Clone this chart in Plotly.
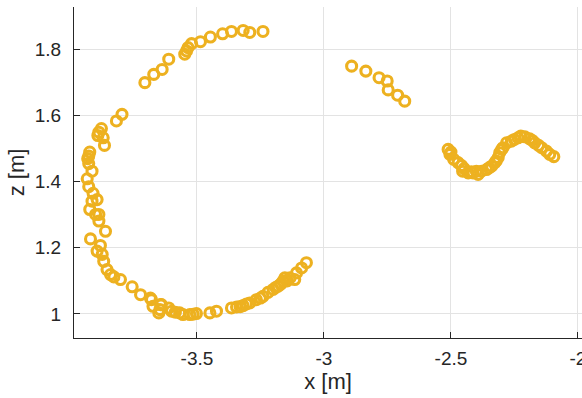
import plotly.graph_objects as go

# Measured trajectory points, x and z in metres, grouped by segment
arc_left_x = [-3.795, -3.817, -3.876, -3.886, -3.890, -3.869, -3.864, -3.922, -3.926, -3.930,
              -3.926, -3.913, -3.932, -3.926, -3.909, -3.893, -3.922, -3.886, -3.913, -3.899,
              -3.886, -3.860, -3.919, -3.880, -3.893, -3.873, -3.867, -3.854, -3.840, -3.827,
              -3.801, -3.755, -3.722, -3.683, -3.643, -3.611, -3.650]
arc_left_z = [1.604, 1.584, 1.561, 1.550, 1.540, 1.533, 1.510, 1.490, 1.478, 1.470,
              1.455, 1.432, 1.409, 1.385, 1.365, 1.346, 1.316, 1.301, 1.341, 1.301,
              1.281, 1.250, 1.227, 1.207, 1.190, 1.180, 1.159, 1.134, 1.119, 1.112,
              1.104, 1.082, 1.058, 1.048, 1.028, 1.018, 1.003]

arc_bottom_x = [-3.679, -3.673, -3.640, -3.646, -3.600, -3.585, -3.568, -3.555, -3.528, -3.515,
                -3.502, -3.449, -3.423, -3.364, -3.344, -3.330, -3.318, -3.305, -3.292, -3.266,
                -3.250, -3.240, -3.220, -3.200, -3.190, -3.180, -3.170, -3.161, -3.154, -3.145,
                -3.134, -3.115, -3.108, -3.088, -3.069]
arc_bottom_z = [1.043, 1.023, 1.028, 1.013, 1.008, 1.005, 1.003, 0.998, 0.998, 0.999,
                1.001, 1.003, 1.008, 1.018, 1.021, 1.022, 1.025, 1.030, 1.033, 1.043,
                1.048, 1.053, 1.065, 1.074, 1.080, 1.084, 1.090, 1.099, 1.109, 1.100,
                1.109, 1.104, 1.124, 1.139, 1.155]

arc_top_x = [-3.705, -3.670, -3.637, -3.611, -3.548, -3.541, -3.535, -3.521, -3.486, -3.447,
             -3.399, -3.364, -3.318, -3.292, -3.240]
arc_top_z = [1.700, 1.725, 1.740, 1.771, 1.786, 1.796, 1.806, 1.818, 1.824, 1.838,
             1.848, 1.855, 1.858, 1.852, 1.855]

mid_x = [-2.891, -2.835, -2.783, -2.751, -2.747, -2.710, -2.682]
mid_z = [1.750, 1.735, 1.715, 1.705, 1.678, 1.662, 1.644]

wave_x = [-2.511, -2.504, -2.500, -2.489, -2.472, -2.458, -2.454, -2.448, -2.432, -2.420,
          -2.413, -2.400, -2.393, -2.380, -2.360, -2.350, -2.340, -2.327, -2.322, -2.314,
          -2.308, -2.300, -2.295, -2.281, -2.262, -2.250, -2.236, -2.225, -2.209, -2.190,
          -2.180, -2.170, -2.155, -2.143, -2.124, -2.111, -2.095]
wave_z = [1.498, 1.483, 1.490, 1.468, 1.458, 1.449, 1.432, 1.440, 1.427, 1.430,
          1.427, 1.432, 1.422, 1.432, 1.437, 1.442, 1.447, 1.458, 1.463, 1.473,
          1.488, 1.498, 1.503, 1.518, 1.523, 1.528, 1.533, 1.538, 1.536, 1.530,
          1.525, 1.518, 1.510, 1.503, 1.493, 1.483, 1.476]

x_ticks = [-3.5, -3.0, -2.5, -2.0]
x_tick_labels = ["-3.5", "-3", "-2.5", "-2"]
z_ticks = [1.0, 1.2, 1.4, 1.6, 1.8]
z_tick_labels = ["1", "1.2", "1.4", "1.6", "1.8"]

xs = arc_left_x + arc_bottom_x + arc_top_x + mid_x + wave_x
zs = arc_left_z + arc_bottom_z + arc_top_z + mid_z + wave_z

MARKER_COLOR = "#EDB120"
AXIS_COLOR = "#262626"
GRID_COLOR = "#e3e3e3"
FONT = "Liberation Sans, Arial, sans-serif"

fig = go.Figure(
    go.Scatter(
        x=xs, y=zs, mode="markers",
        marker=dict(symbol="circle-open", size=10,
                    line=dict(width=3.1, color=MARKER_COLOR), color=MARKER_COLOR),
        showlegend=False,
    )
)

axis_common = dict(
    showline=True, linecolor=AXIS_COLOR, linewidth=1,
    ticks="inside", ticklen=6, tickcolor=AXIS_COLOR, tickwidth=1,
    showgrid=True, gridcolor=GRID_COLOR, gridwidth=1,
    zeroline=False, mirror=False,
    tickfont=dict(family=FONT, size=19, color=AXIS_COLOR),
    ticklabeloverflow="allow",
)

fig.update_xaxes(
    range=[-3.984, -1.984], tickvals=x_ticks, ticktext=x_tick_labels,
    title=dict(text="x [m]", font=dict(family=FONT, size=22, color=AXIS_COLOR), standoff=2),
    ticklabelstandoff=3,
    **axis_common,
)
fig.update_yaxes(
    range=[0.927, 1.929], tickvals=z_ticks, ticktext=z_tick_labels,
    title=dict(text="z [m]", font=dict(family=FONT, size=22, color=AXIS_COLOR), standoff=4),
    ticklabelstandoff=8,
    **axis_common,
)

fig.update_layout(
    width=582, height=398,
    margin=dict(l=74, r=0, t=7, b=60, autoexpand=False),
    plot_bgcolor="white", paper_bgcolor="white",
    font=dict(family=FONT, color=AXIS_COLOR),
)

fig.write_html("out.html")
